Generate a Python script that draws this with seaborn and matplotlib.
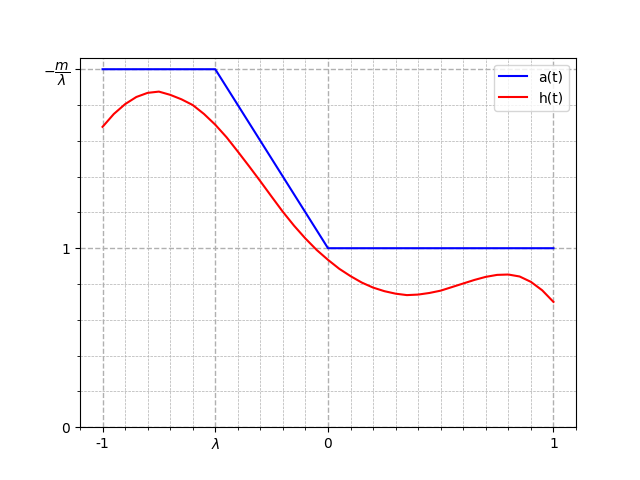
import matplotlib
matplotlib.use("Agg")
import matplotlib.pyplot as plt
from matplotlib.ticker import MultipleLocator
import seaborn as sns

# a(t): piecewise linear
aT = [-1.0, -0.5, 0.0, 1.0]
aVals = [2.0, 2.0, 1.0, 1.0]

# h(t): values
hT = [-1.0, -0.95, -0.9, -0.85, -0.8, -0.75, -0.7, -0.65, -0.6, -0.55,
      -0.5, -0.45, -0.4, -0.35, -0.3, -0.25, -0.2, -0.15, -0.1, -0.05,
      0.0, 0.05, 0.1, 0.15, 0.2, 0.25, 0.3, 0.35, 0.4, 0.45,
      0.5, 0.55, 0.6, 0.65, 0.7, 0.75, 0.8, 0.85, 0.9, 0.95, 1.0]
hVals = [1.678, 1.75, 1.805, 1.845, 1.868, 1.875, 1.857, 1.832, 1.80, 1.75,
         1.69, 1.62, 1.54, 1.458, 1.374, 1.288, 1.203, 1.125, 1.054, 0.99,
         0.935, 0.885, 0.844, 0.808, 0.78, 0.76, 0.746, 0.738, 0.741, 0.75,
         0.763, 0.783, 0.803, 0.823, 0.84, 0.851, 0.853, 0.842, 0.812, 0.765, 0.70]

xTicks = [-1, -0.5, 0, 1]
xTickLabels = ['-1', r'$\lambda$', '0', '1']
yTicks = [0, 1, 2]
yTickLabels = ['0', '1', r'$-\dfrac{m}{\lambda}$']

fig, ax = plt.subplots(figsize=(6.4, 4.8), dpi=100)

sns.lineplot(x=aT, y=aVals, color='blue', label='a(t)', ax=ax)
sns.lineplot(x=hT, y=hVals, color='red', label='h(t)', ax=ax)

ax.set_ylim(bottom=0)
ax.set_xticks(xTicks)
ax.set_xticklabels(xTickLabels)
ax.set_yticks(yTicks)
ax.set_yticklabels(yTickLabels)
ax.xaxis.set_minor_locator(MultipleLocator(0.1))
ax.yaxis.set_minor_locator(MultipleLocator(0.2))

ax.grid(which='major', linestyle='--', linewidth=1, color='#b0b0b0')
ax.grid(which='minor', linestyle='--', linewidth=0.5, color='#b0b0b0')
ax.legend(loc='upper right')

plt.savefig('out.png', dpi=100)
